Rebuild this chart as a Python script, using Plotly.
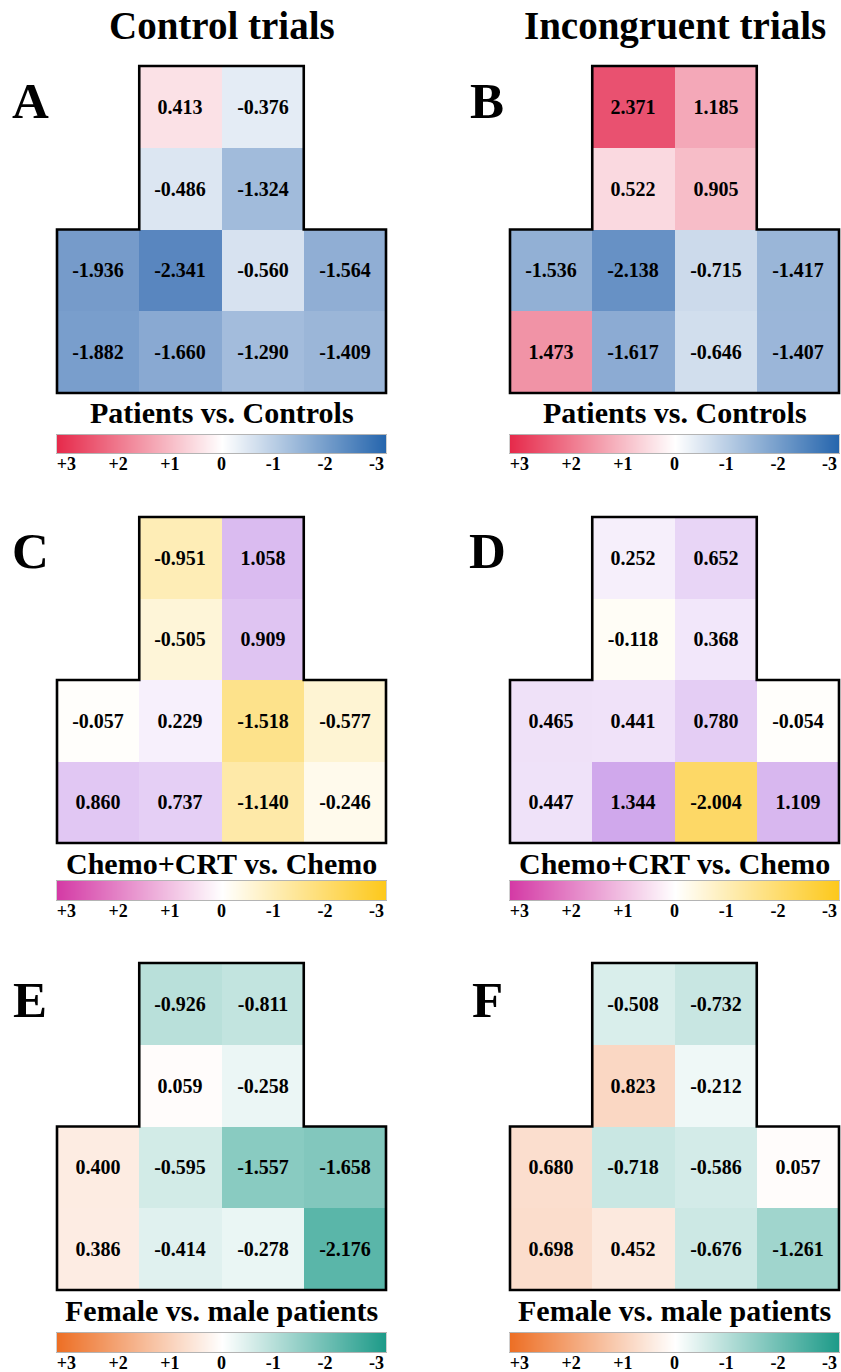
import plotly.graph_objects as go

W, H = 841, 1372

# ---------------- data ----------------
col_titles = ["Control trials", "Incongruent trials"]
panel_letters = ["A", "B", "C", "D", "E", "F"]
subtitles = ["Patients vs. Controls", "Patients vs. Controls",
             "Chemo+CRT vs. Chemo", "Chemo+CRT vs. Chemo",
             "Female vs. male patients", "Female vs. male patients"]

N = None
vals_A = [[N, 0.413, -0.376, N],
          [N, -0.486, -1.324, N],
          [-1.936, -2.341, -0.560, -1.564],
          [-1.882, -1.660, -1.290, -1.409]]
vals_B = [[N, 2.371, 1.185, N],
          [N, 0.522, 0.905, N],
          [-1.536, -2.138, -0.715, -1.417],
          [1.473, -1.617, -0.646, -1.407]]
vals_C = [[N, -0.951, 1.058, N],
          [N, -0.505, 0.909, N],
          [-0.057, 0.229, -1.518, -0.577],
          [0.860, 0.737, -1.140, -0.246]]
vals_D = [[N, 0.252, 0.652, N],
          [N, -0.118, 0.368, N],
          [0.465, 0.441, 0.780, -0.054],
          [0.447, 1.344, -2.004, 1.109]]
vals_E = [[N, -0.926, -0.811, N],
          [N, 0.059, -0.258, N],
          [0.400, -0.595, -1.557, -1.658],
          [0.386, -0.414, -0.278, -2.176]]
vals_F = [[N, -0.508, -0.732, N],
          [N, 0.823, -0.212, N],
          [0.680, -0.718, -0.586, 0.057],
          [0.698, 0.452, -0.676, -1.261]]
panel_values = [vals_A, vals_B, vals_C, vals_D, vals_E, vals_F]

cb_ticks = [3, 2, 1, 0, -1, -2, -3]
cb_ticktext = ["+3", "+2", "+1", "0", "-1", "-2", "-3"]

# colour scales (cells / colour bar) per row
cell_scales = [
    [[0, "#2a64ad"], [0.5, "#ffffff"], [1, "#e3234a"]],
    [[0, "#fcc51a"], [0.5, "#ffffff"], [1, "#963dd5"]],
    [[0, "#1c9a88"], [0.5, "#ffffff"], [1, "#ed6f25"]],
]
bar_scales = [
    [[0, "#2565ad"], [0.5, "#ffffff"], [1, "#e62a4b"]],
    [[0, "#fdc81a"], [0.5, "#ffffff"], [1, "#d43aa5"]],
    [[0, "#1c9a88"], [0.5, "#ffffff"], [1, "#ed6f25"]],
]

# ---------------- layout geometry (pixels) ----------------
heat_left = [57, 510]
heat_right = [386, 839]
heat_top = [66, 517, 963]
heat_bottom = [393, 843, 1290]
sub_y = [413, 863, 1310]
cb_top = [435, 881, 1333]
cb_bot = [453, 900, 1352]
letter_x = [30, 487]
letter_y = [101, 551, 1000]
title_y = 26
LABEL_INSET = 0.943  # end labels sit inside the bar ends

FONT = "Liberation Serif"


def px_x(x):
    return min(max(x / W, 0), 1)


def px_y(y):
    return min(max(1 - y / H, 0), 1)


fig = go.Figure()
layout = dict(template="none", width=W, height=H,
              margin=dict(l=0, r=0, t=0, b=0, pad=0, autoexpand=False),
              paper_bgcolor="white", plot_bgcolor="rgba(0,0,0,0)",
              showlegend=False, font=dict(family=FONT, color="black"))
shapes = []
annotations = []

PADPX = 2  # pixels of room so the outline is not clipped
ax_i = 0
for p, vals in enumerate(panel_values):
    r, c = divmod(p, 2)
    nrows = len(vals)
    ncols = len(vals[0])
    cw = (heat_right[c] - heat_left[c]) / ncols
    ch = (heat_bottom[r] - heat_top[r]) / nrows
    px_pad = PADPX / cw
    py_pad = PADPX / ch

    # heatmap axes
    ax_i += 1
    xa = "x" if ax_i == 1 else f"x{ax_i}"
    ya = "y" if ax_i == 1 else f"y{ax_i}"
    layout[f"xaxis{'' if ax_i == 1 else ax_i}"] = dict(
        domain=[px_x(heat_left[c] - PADPX), px_x(heat_right[c] + PADPX)],
        range=[-0.5 - px_pad, ncols - 0.5 + px_pad], visible=False,
        anchor=ya, fixedrange=True, automargin=False)
    layout[f"yaxis{'' if ax_i == 1 else ax_i}"] = dict(
        domain=[px_y(heat_bottom[r] + PADPX), px_y(heat_top[r] - PADPX)],
        range=[nrows - 0.5 + py_pad, -0.5 - py_pad], visible=False,
        anchor=xa, fixedrange=True, automargin=False)
    fig.add_trace(go.Heatmap(
        z=vals, x=list(range(ncols)), y=list(range(nrows)),
        colorscale=cell_scales[r], zmin=-3, zmax=3, showscale=False,
        texttemplate="<b>%{z:.3f}</b>",
        textfont=dict(family=FONT, size=20, color="black"),
        hoverongaps=False, xaxis=xa, yaxis=ya))

    # T-shaped outline derived from the filled cells
    top_cols = [j for j in range(ncols) if vals[0][j] is not None]
    full_start = min(i for i in range(nrows) if all(v is not None for v in vals[i]))
    a0, a1 = min(top_cols) - 0.5, max(top_cols) + 0.5
    ym = full_start - 0.5
    path = (f"M {-0.5},{ym} L {a0},{ym} L {a0},{-0.5} L {a1},{-0.5} "
            f"L {a1},{ym} L {ncols - 0.5},{ym} L {ncols - 0.5},{nrows - 0.5} "
            f"L {-0.5},{nrows - 0.5} Z")
    shapes.append(dict(type="path", path=path, xref=xa, yref=ya,
                       line=dict(color="black", width=2.6), layer="above"))

    # colour bar axes
    ax_i += 1
    xb = f"x{ax_i}"
    yb = f"y{ax_i}"
    layout[f"xaxis{ax_i}"] = dict(
        domain=[px_x(heat_left[c]), px_x(heat_right[c])],
        range=[cb_ticks[0], cb_ticks[-1]], anchor=yb, fixedrange=True,
        automargin=False,
        tickvals=[t * LABEL_INSET for t in cb_ticks],
        ticktext=[f"<b>{t}</b>" for t in cb_ticktext],
        tickfont=dict(family=FONT, size=18, color="black"),
        ticklabelstandoff=-6,
        showgrid=False, zeroline=False, ticks="", ticklen=0,
        showline=True, mirror=True, linecolor="#b4b4b4", linewidth=1)
    layout[f"yaxis{ax_i}"] = dict(
        domain=[px_y(cb_bot[r]), px_y(cb_top[r])], range=[-0.5, 1.5],
        anchor=xb, fixedrange=True, automargin=False, showticklabels=False,
        showgrid=False, ticks="",
        zeroline=False, showline=True, mirror=True, linecolor="#d0d0d0", linewidth=1)
    fig.add_trace(go.Heatmap(
        z=[cb_ticks, cb_ticks], x=cb_ticks, y=[0, 1],
        colorscale=bar_scales[r], zmin=-3, zmax=3, showscale=False,
        zsmooth="best", hoverinfo="skip", xaxis=xb, yaxis=yb))

    # subtitle
    annotations.append(dict(
        text=f"<b>{subtitles[p]}</b>", xref="paper", yref="paper",
        x=px_x((heat_left[c] + heat_right[c]) / 2), y=px_y(sub_y[r]),
        xanchor="center", yanchor="middle", showarrow=False,
        font=dict(family=FONT, size=30, color="black")))
    # panel letter
    annotations.append(dict(
        text=f"<b>{panel_letters[p]}</b>", xref="paper", yref="paper",
        x=px_x(letter_x[c]), y=px_y(letter_y[r]),
        xanchor="center", yanchor="middle", showarrow=False,
        font=dict(family=FONT, size=51, color="black")))

for c, t in enumerate(col_titles):
    annotations.append(dict(
        text=f"<b>{t}</b>", xref="paper", yref="paper",
        x=px_x((heat_left[c] + heat_right[c]) / 2), y=px_y(title_y),
        xanchor="center", yanchor="middle", showarrow=False,
        font=dict(family=FONT, size=39, color="black")))

layout["shapes"] = shapes
layout["annotations"] = annotations
fig.update_layout(**layout)
fig.write_html("out.html", config={"displayModeBar": False, "staticPlot": True},
               post_script="document.body.style.margin='0';document.body.style.overflow='hidden';")
